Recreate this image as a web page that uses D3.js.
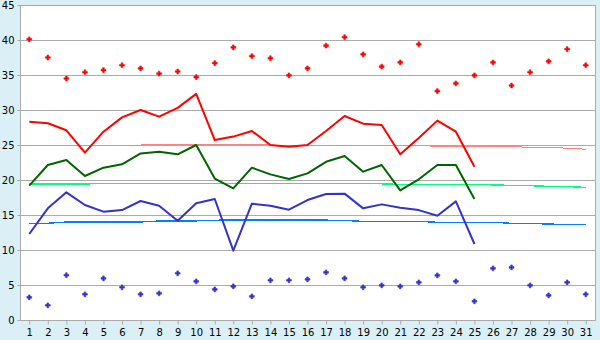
<!DOCTYPE html>
<html>
<head>
<meta charset="utf-8">
<script src="https://cdn.jsdelivr.net/npm/d3@7"></script>
<style>
  html, body { margin: 0; padding: 0; background: #daf0f6; }
  svg { display: block; font-family: 'DejaVu Sans', Verdana, sans-serif; font-size: 10px; }
</style>
</head>
<body>
<svg id="chart" width="600" height="340"></svg>
<script>
var days = d3.range(1, 32);
var yTicks = [0, 5, 10, 15, 20, 25, 30, 35, 40, 45];

// daily extremes (markers)
var absMax = [40.1, 37.5, 34.5, 35.4, 35.7, 36.4, 35.95, 35.2, 35.5, 34.7,
  36.7, 38.95, 37.7, 37.4, 34.95, 35.95, 39.2, 40.4, 37.95, 36.2,
  36.8, 39.4, 32.7, 33.8, 34.95, 36.8, 33.5, 35.4, 36.95, 38.7, 36.4];
var absMin = [3.24, 2.1, 6.4, 3.67, 5.95, 4.67, 3.67, 3.81, 6.67, 5.52,
  4.38, 4.81, 3.38, 5.67, 5.67, 5.81, 6.81, 5.95, 4.67, 4.95,
  4.81, 5.38, 6.38, 5.52, 2.67, 7.38, 7.52, 4.95, 3.52, 5.38, 3.67];

// this month (days 1-25)
var tMax = [28.33, 28.1, 27.1, 23.9, 26.9, 28.95, 30.0, 29.05, 30.3, 32.3,
  25.7, 26.2, 27.0, 25.0, 24.76, 25.0, 27.0, 29.14, 28.05, 27.86,
  23.67, 26.0, 28.48, 26.9, 21.9];
var tMean = [19.19, 22.14, 22.86, 20.57, 21.76, 22.24, 23.8, 24.05, 23.67, 25.0,
  20.2, 18.8, 21.76, 20.8, 20.14, 20.95, 22.6, 23.43, 21.19, 22.14,
  18.52, 20.1, 22.14, 22.14, 17.29];
var tMin = [12.29, 15.95, 18.24, 16.43, 15.48, 15.71, 17.0, 16.33, 14.19, 16.67,
  17.29, 9.9, 16.62, 16.33, 15.76, 17.14, 18.0, 18.05, 15.95, 16.52,
  16.05, 15.7, 14.9, 16.95, 10.86];

// normals
var nMax = [25.0, 25.0, 25.0, 25.0, 25.0, 25.0, 25.0, 25.05, 25.12, 25.12,
  25.12, 25.1, 25.05, 25.0, 24.98, 24.98, 24.98, 24.98, 24.98, 24.98,
  24.98, 24.95, 24.8, 24.8, 24.8, 24.8, 24.78, 24.66, 24.64, 24.55, 24.4];
var nMean = [19.43, 19.43, 19.43, 19.43, 19.5, 19.52, 19.52, 19.52, 19.52, 19.52,
  19.52, 19.52, 19.52, 19.5, 19.5, 19.5, 19.5, 19.5, 19.5, 19.45,
  19.38, 19.38, 19.38, 19.38, 19.38, 19.3, 19.24, 19.18, 19.1, 19.05, 18.95];
var nMin = [13.8, 13.82, 14.0, 14.0, 14.0, 14.0, 14.0, 14.14, 14.14, 14.16,
  14.26, 14.27, 14.27, 14.27, 14.27, 14.27, 14.27, 14.2, 14.1, 14.1,
  14.1, 14.08, 13.96, 13.96, 13.96, 13.94, 13.82, 13.8, 13.7, 13.67, 13.67];

var plotL = 20, plotR = 595, plotT = 5, plotB = 320;

var svg = d3.select('#chart');

var x = d3.scalePoint().domain(days).range([plotL, plotR]).padding(0.5);
var y = d3.scaleLinear().domain([0, 45]).range([plotB, plotT]);

svg.append('rect')
  .attr('x', plotL).attr('y', plotT)
  .attr('width', plotR - plotL).attr('height', plotB - plotT)
  .attr('fill', '#fff');

// grid
svg.append('g')
  .selectAll('line')
  .data(yTicks.slice(1))
  .enter()
  .append('line')
  .attr('x1', plotL).attr('x2', plotR)
  .attr('y1', function(d) { return Math.round(y(d)) + 0.5; })
  .attr('y2', function(d) { return Math.round(y(d)) + 0.5; })
  .attr('stroke', '#ababab');

svg.append('line')
  .attr('x1', plotR + 0.5).attr('x2', plotR + 0.5)
  .attr('y1', plotT).attr('y2', plotB)
  .attr('stroke', '#ababab');

// axes
var yAxis = svg.append('g')
  .attr('transform', 'translate(' + (plotL + 0.5) + ',0)')
  .call(d3.axisLeft(y).tickValues(yTicks).tickSize(3).tickPadding(3));
var xAxis = svg.append('g')
  .attr('transform', 'translate(0,' + (plotB + 0.5) + ')')
  .call(d3.axisBottom(x).tickSize(4).tickPadding(4));

svg.selectAll('.domain').attr('stroke', '#ababab');
svg.selectAll('.tick line').attr('stroke', '#ababab');
svg.selectAll('.tick text')
  .attr('fill', '#000')
  .style('font-family', "'DejaVu Sans', Verdana, sans-serif")
  .style('font-size', '10px');
xAxis.select('.domain').attr('d', 'M' + plotL + ',0H' + (plotR + 1));
yAxis.select('.domain').attr('d', 'M0,' + plotT + 'V' + plotB);

function drawLine(data, color, width, crisp) {
  var line = d3.line()
    .x(function(d, i) { return x(days[i]); })
    .y(function(d) { return y(d); });
  svg.append('path')
    .datum(data)
    .attr('d', line)
    .attr('fill', 'none')
    .attr('stroke', color)
    .attr('stroke-width', width)
    .attr('stroke-linejoin', 'round')
    .style('shape-rendering', crisp ? 'crispEdges' : 'auto');
}

drawLine(nMax, '#ff8080', 1, true);
drawLine(nMean, '#00ff80', 1.3, true);
drawLine(nMin, '#0080ff', 1.3, true);

drawLine(tMax, '#ff0000', 2, false);
drawLine(tMean, '#006400', 2, false);
drawLine(tMin, '#3333cc', 2, false);

function drawMarks(data, color) {
  var sym = d3.symbol().type(d3.symbolCross).size(13);
  svg.append('g')
    .selectAll('path')
    .data(data)
    .enter()
    .append('path')
    .attr('d', sym)
    .attr('transform', function(d, i) {
      return 'translate(' + x(days[i]) + ',' + y(d) + ')';
    })
    .attr('fill', color)
    .attr('stroke', color)
    .attr('stroke-width', 0.6);
}

drawMarks(absMax, '#ff0000');
drawMarks(absMin, '#3333cc');
</script>
</body>
</html>
